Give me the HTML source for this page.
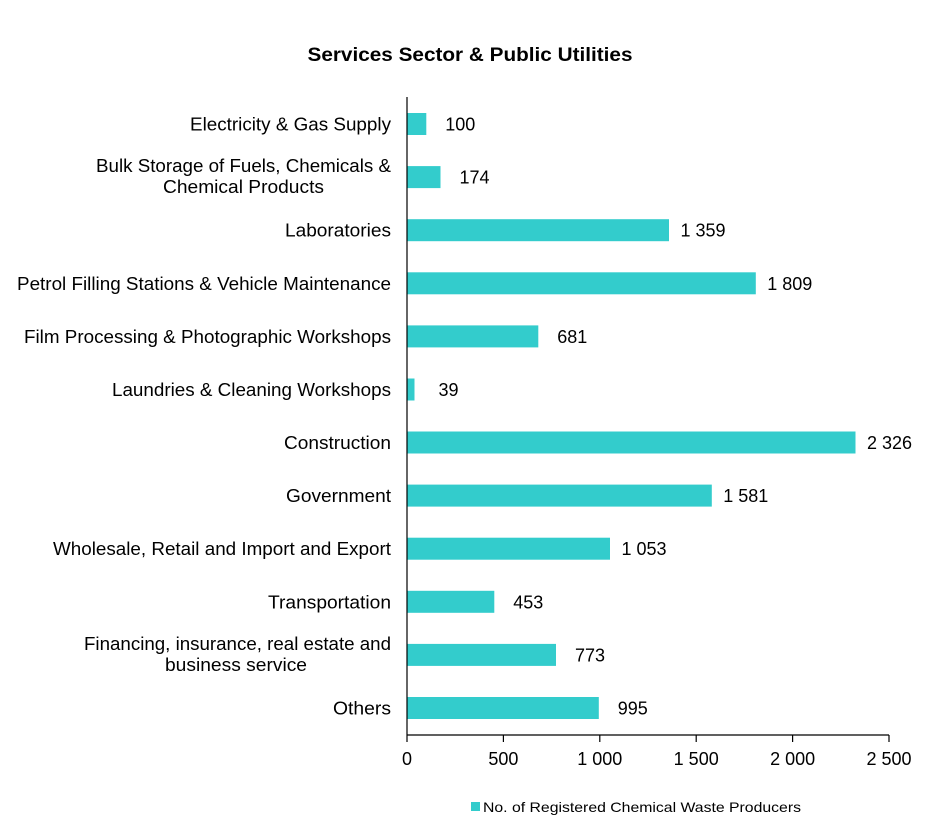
<!DOCTYPE html>
<html><head><meta charset="utf-8"><style>
body{margin:0;background:#fff}
svg text{font-family:"Liberation Sans",Arial,sans-serif;fill:#000}
</style></head><body>
<svg width="939" height="828" xmlns="http://www.w3.org/2000/svg">
<text x="470" y="61" font-size="19" font-weight="bold" text-anchor="middle" textLength="325" lengthAdjust="spacingAndGlyphs">Services Sector &amp; Public Utilities</text>
<g fill="#33CCCC">
<rect x="407" y="113" width="19.3" height="22"/>
<rect x="407" y="166.1" width="33.5" height="22"/>
<rect x="407" y="219.2" width="262" height="22"/>
<rect x="407" y="272.3" width="348.8" height="22"/>
<rect x="407" y="325.4" width="131.3" height="22"/>
<rect x="407" y="378.5" width="7.5" height="22"/>
<rect x="407" y="431.5" width="448.5" height="22"/>
<rect x="407" y="484.6" width="304.8" height="22"/>
<rect x="407" y="537.7" width="203" height="22"/>
<rect x="407" y="590.8" width="87.3" height="22"/>
<rect x="407" y="643.9" width="149" height="22"/>
<rect x="407" y="697" width="191.8" height="22"/>
</g>
<line x1="407" y1="97" x2="407" y2="735" stroke="#000" stroke-width="1.2"/>
<line x1="407" y1="735" x2="889" y2="735" stroke="#000" stroke-width="1.2"/>
<g stroke="#000" stroke-width="1.2">
<line x1="407" y1="735" x2="407" y2="742"/><line x1="503.4" y1="735" x2="503.4" y2="742"/><line x1="599.8" y1="735" x2="599.8" y2="742"/><line x1="696.2" y1="735" x2="696.2" y2="742"/><line x1="792.6" y1="735" x2="792.6" y2="742"/><line x1="889" y1="735" x2="889" y2="742"/>
</g>
<g font-size="18" text-anchor="middle">
<text x="407" y="765">0</text><text x="503.4" y="765">500</text><text x="599.8" y="765">1 000</text><text x="696.2" y="765">1 500</text><text x="792.6" y="765">2 000</text><text x="889" y="765">2 500</text>
</g>
<rect x="471" y="802" width="9" height="9" fill="#33CCCC"/>
<text x="483" y="812" font-size="14" textLength="318" lengthAdjust="spacingAndGlyphs">No. of Registered Chemical Waste Producers</text>
<g font-size="18" text-anchor="end" lengthAdjust="spacingAndGlyphs">
<text x="391" y="130.5" textLength="201" lengthAdjust="spacingAndGlyphs">Electricity &amp; Gas Supply</text>
<text x="391" y="172" textLength="295" lengthAdjust="spacingAndGlyphs">Bulk Storage of Fuels, Chemicals &amp;</text>
<text x="324" y="193" textLength="161" lengthAdjust="spacingAndGlyphs">Chemical Products</text>
<text x="391" y="236.7" textLength="106" lengthAdjust="spacingAndGlyphs">Laboratories</text>
<text x="391" y="289.8" textLength="374" lengthAdjust="spacingAndGlyphs">Petrol Filling Stations &amp; Vehicle Maintenance</text>
<text x="391" y="342.9" textLength="367" lengthAdjust="spacingAndGlyphs">Film Processing &amp; Photographic Workshops</text>
<text x="391" y="396" textLength="279" lengthAdjust="spacingAndGlyphs">Laundries &amp; Cleaning Workshops</text>
<text x="391" y="449" textLength="107" lengthAdjust="spacingAndGlyphs">Construction</text>
<text x="391" y="502.1" textLength="105" lengthAdjust="spacingAndGlyphs">Government</text>
<text x="391" y="555.2" textLength="338" lengthAdjust="spacingAndGlyphs">Wholesale, Retail and Import and Export</text>
<text x="391" y="608.3" textLength="123" lengthAdjust="spacingAndGlyphs">Transportation</text>
<text x="391" y="650" textLength="307" lengthAdjust="spacingAndGlyphs">Financing, insurance, real estate and</text>
<text x="307" y="671" textLength="142" lengthAdjust="spacingAndGlyphs">business service</text>
<text x="391" y="714.5" textLength="58" lengthAdjust="spacingAndGlyphs">Others</text>
</g>
<g font-size="18" text-anchor="middle">
<text x="460.3" y="130.5">100</text>
<text x="474.5" y="183.6">174</text>
<text x="703" y="236.7">1 359</text>
<text x="789.8" y="289.8">1 809</text>
<text x="572.3" y="342.9">681</text>
<text x="448.5" y="396">39</text>
<text x="889.5" y="449">2 326</text>
<text x="745.8" y="502.1">1 581</text>
<text x="644" y="555.2">1 053</text>
<text x="528.3" y="608.3">453</text>
<text x="590" y="661.4">773</text>
<text x="632.8" y="714.5">995</text>
</g>
</svg>
</body></html>
